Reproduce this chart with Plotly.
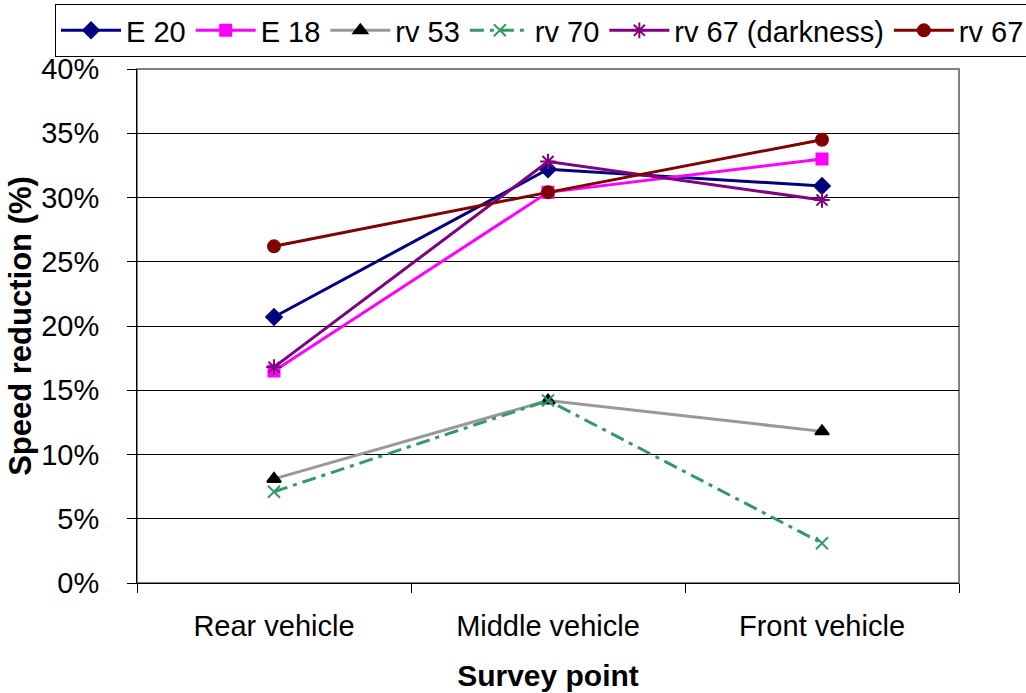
import plotly.graph_objects as go

categories = ["Rear vehicle", "Middle vehicle", "Front vehicle"]
e20 = [0.207, 0.322, 0.309]
e18 = [0.165, 0.304, 0.330]
rv53 = [0.081, 0.142, 0.118]
rv70 = [0.071, 0.142, 0.031]
rv67_dark = [0.168, 0.328, 0.298]
rv67 = [0.262, 0.304, 0.345]
y_ticks = [0, 0.05, 0.10, 0.15, 0.20, 0.25, 0.30, 0.35, 0.40]

series = [
    ("E 20", e20, "#000080", "#000080", "diamond", 12, "solid"),
    ("E 18", e18, "#FF00FF", "#FF00FF", "square", 11, "solid"),
    ("rv 53", rv53, "#999999", "#000000", "triangle-up", 12, "solid"),
    ("rv 70", rv70, "#339966", "#339966", "x-thin-open", 12, "14px,6px,4px,6px"),
    ("rv 67 (darkness)", rv67_dark, "#800080", "#800080", "asterisk-open", 13, "solid"),
    ("rv 67", rv67, "#800000", "#800000", "circle", 12, "solid"),
]

fig = go.Figure()
for name, vals, lc, mc, sym, size, dash in series:
    fig.add_trace(go.Scatter(
        x=categories, y=vals, name=name, mode="lines+markers",
        line=dict(color=lc, width=3, dash=dash),
        marker=dict(symbol=sym, size=size, color=mc,
                    line=dict(color=mc, width=2)),
    ))

# The reference chart is cropped at its right edge (the legend runs past it),
# so the figure is laid out wider than the 1026 px window.
FIG_W = 1200
font_family = "Liberation Sans, Arial, sans-serif"
fig.update_layout(
    width=FIG_W, height=693,
    margin=dict(l=137, r=FIG_W - 959, t=69, b=110, autoexpand=False),
    plot_bgcolor="white", paper_bgcolor="white",
    font=dict(family=font_family, size=28, color="black"),
    showlegend=True,
    legend=dict(
        orientation="h", x=1.0864, y=1.1265, xanchor="right", yanchor="top",
        bordercolor="black", borderwidth=1, font=dict(size=29),
        itemwidth=60, tracegroupgap=0, bgcolor="white",
    ),
    xaxis=dict(
        type="category", range=[-0.5, 2.5],
        showline=True, linecolor="black", linewidth=1,
        ticks="outside", tickson="boundaries", ticklen=9, tickcolor="black",
        showgrid=False, ticklabelstandoff=17,
        title=dict(text="<b>Survey point</b>", font=dict(size=30), standoff=24),
        tickfont=dict(size=29),
    ),
    yaxis=dict(
        range=[0, 0.4], tickvals=y_ticks, tickformat=".0%",
        showline=True, linecolor="black", linewidth=1,
        ticks="outside", ticklen=9, tickcolor="black",
        showgrid=True, gridcolor="black", gridwidth=1,
        zeroline=False, ticklabelstandoff=22,
        title=dict(text="<b>Speed reduction (%)</b>", font=dict(size=31), standoff=0),
        tickfont=dict(size=29),
    ),
)
fig.add_shape(type="rect", xref="paper", yref="paper", x0=0, x1=1, y0=0, y1=1,
              line=dict(color="#808080", width=2), layer="below")

fig.write_html(
    "out.html",
    post_script="document.documentElement.style.overflow='hidden';"
                "document.body.style.overflow='hidden';",
)
